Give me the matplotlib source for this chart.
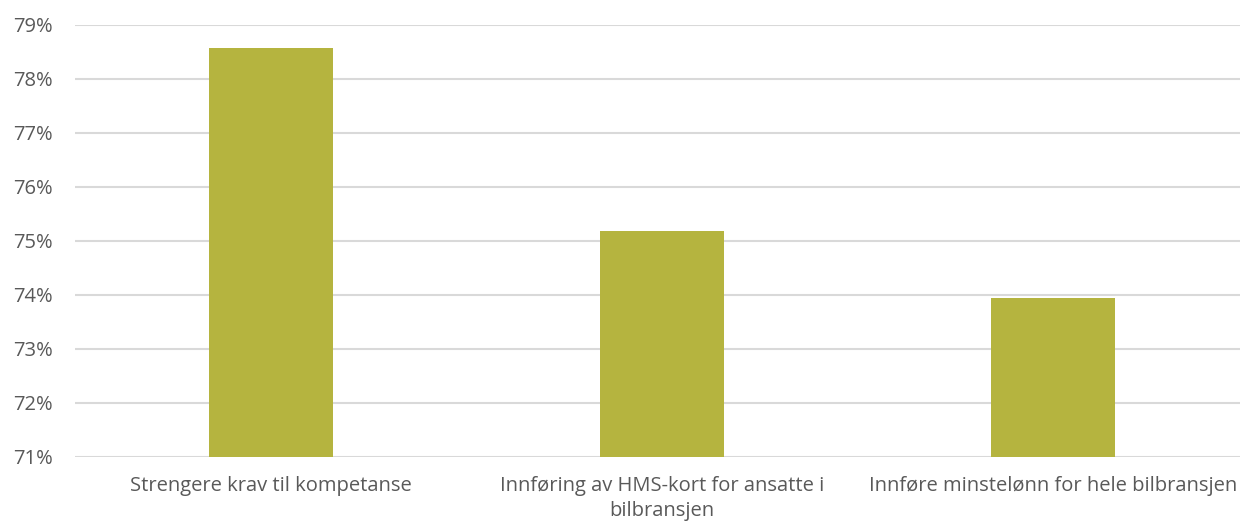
import matplotlib.pyplot as plt
from matplotlib.ticker import FuncFormatter

# data
categories = ["Strengere krav til kompetanse",
              "Innføring av HMS-kort for ansatte i\nbilbransjen",
              "Innføre minstelønn for hele bilbransjen"]
values = [78.57, 75.19, 73.95]
yticks = [71, 72, 73, 74, 75, 76, 77, 78, 79]

plt.rcParams['font.family'] = ['Open Sans', 'DejaVu Sans']

fig = plt.figure(figsize=(12.4, 5.27), dpi=100)
ax = fig.add_axes([75 / 1240, 70 / 527, 1173.5 / 1240, 432 / 527])

x = range(len(categories))
ax.bar(x, values, width=0.317, color='#B5B43F', zorder=3)

ax.set_xlim(-0.5, len(categories) - 0.5)
ax.set_ylim(71, 79)
ax.set_yticks(yticks)
ax.yaxis.set_major_formatter(FuncFormatter(lambda v, p: f"{v:.0f}%"))
ax.set_xticks(list(x))
ax.set_xticklabels(categories, linespacing=1.3)

ax.grid(axis='y', color='#D9D9D9', linewidth=1.5, zorder=0)
for s in ax.spines.values():
    s.set_visible(False)
ax.tick_params(axis='both', length=0, labelsize=14.5, colors='#595959')
ax.tick_params(axis='y', pad=16)
ax.tick_params(axis='x', pad=14)

fig.savefig('out.png')
